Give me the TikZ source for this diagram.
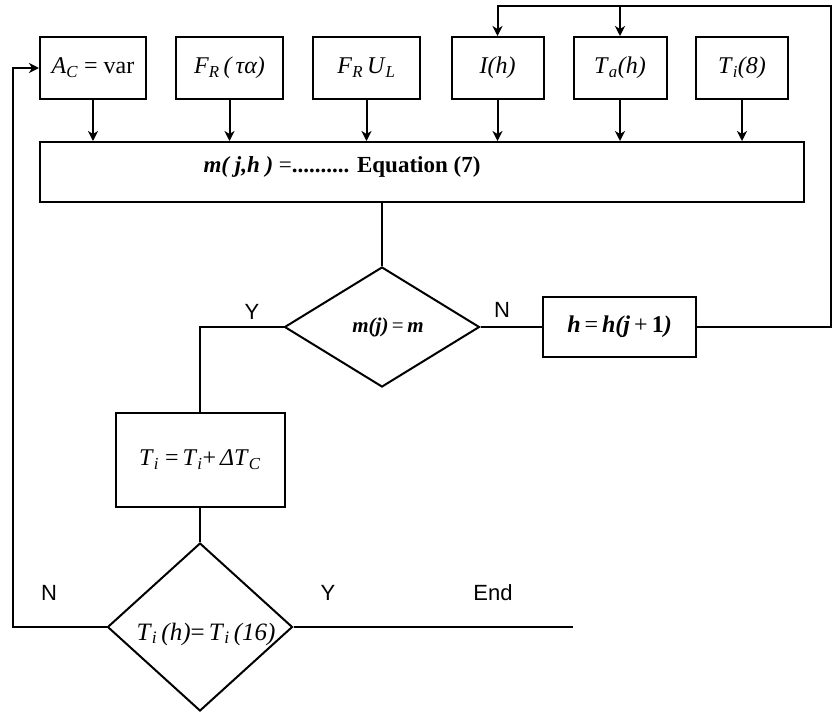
\documentclass[tikz,border=0pt]{standalone}
\usepackage{fontspec}
\setmainfont{Liberation Serif}
\newfontfamily\arialfont{Liberation Sans}
\usetikzlibrary{shapes.geometric,arrows.meta}
\begin{document}
\begin{tikzpicture}[x=1pt,y=-1pt,line width=2pt,
  box/.style={draw,rectangle,inner sep=0pt,line width=2pt},
  dia/.style={draw,diamond,inner sep=0pt,line width=2pt},
  big/.style={font=\fontsize{24}{24}\selectfont},
  mid/.style={font=\fontsize{24}{24}\selectfont},
  lbl/.style={font=\arialfont\fontsize{22}{22}\selectfont},
  arr/.style={-{Stealth[length=10pt,width=10pt,inset=3pt]}}]
\useasboundingbox (0,0) rectangle (833,713);
% top row
\node[box,big,minimum width=106,minimum height=62] (ac) at (93,68) {\textit{A}\textsubscript{\textit{C}} = var};
\node[box,big,minimum width=107,minimum height=62] (fr) at (229.5,68) {\textit{F}\textsubscript{\textit{R}}\,\textit{(\,τα)}};
\node[box,big,minimum width=107,minimum height=62] (fu) at (366.5,68) {\textit{F}\textsubscript{\textit{R}}\,\textit{U}\textsubscript{\textit{L}}};
\node[box,big,minimum width=92,minimum height=62] (ih) at (497.5,68) {\textit{I(h)}};
\node[box,big,minimum width=93,minimum height=62] (ta) at (620,68) {\textit{T}\textsubscript{\textit{a}}\textit{(h)}};
\node[box,big,minimum width=92,minimum height=62] (ti) at (742,68) {\textit{T}\textsubscript{\textit{i}}\textit{(8)}};
% main box
\node[box,minimum width=764,minimum height=60] (main) at (422,172) {};
\node[font=\fontsize{23}{23}\selectfont] (maintext) at (342,167) {\textbf{\textit{m( j,h )}} =\textbf{..........} \textbf{Equation (7)}};
% decision 1
\node[dia,minimum width=195,minimum height=120] (d1) at (382,327) {};
\node[font=\fontsize{21}{21}\selectfont] (d1text) at (388,327) {\textbf{\textit{m(j)}}\,=\,\textbf{\textit{m}}};
\node[lbl] (y1) at (252,312) {Y};
\node[lbl] (n1) at (502,310) {N};
\node[box,mid,minimum width=153,minimum height=60] (hb) at (619.5,327) {\textbf{\textit{h}}\,=\,\textbf{\textit{h(j}}\,+\,\textbf{1\textit{)}}};
% update box
\node[box,mid,minimum width=169,minimum height=94] (tb) at (200,460) {\textit{T}\textsubscript{\textit{i}} =\,\textit{T}\textsubscript{\textit{i}}+\,\textit{ΔT}\textsubscript{\textit{C}}};
% decision 2
\node[dia,minimum width=185,minimum height=168] (d2) at (200,627) {};
\node[font=\fontsize{25}{25}\selectfont] (d2text) at (206,634) {\textit{T}\textsubscript{\textit{i}}\,\textit{(h)}=\,\textit{T}\textsubscript{\textit{i}}\,\textit{(16)}};
\node[lbl] (n2) at (49,593) {N};
\node[lbl] (y2) at (328,593) {Y};
\node[lbl] (endl) at (493,593) {End};
% helper coordinates
\coordinate (rtop) at (831,6);
\coordinate (lx) at (13,0);
\coordinate (endpt) at (573,627);
% connectors top boxes -> main
\foreach \n in {ac,fr,fu,ih,ta,ti}
  \draw[arr] (\n.south) -- (\n.south |- main.north);
% loop from h box back to inputs
\draw[arr] (hb.east) -- (hb.east -| rtop) -- (rtop) -| (ih.north);
\draw[arr] (ta.north |- rtop) -- (ta.north);
% main -> decision 1
\draw (main.south -| d1.north) -- (d1.north);
\draw (d1.east) -- (hb.west);
\draw (d1.west) -| (tb.north);
\draw (tb.south) -- (d2.north);
\draw (d2.east) -- (endpt);
\draw[arr] (d2.west) -- (d2.west -| lx) -- (ac.west -| lx) -- (ac.west);
\end{tikzpicture}
\end{document}
